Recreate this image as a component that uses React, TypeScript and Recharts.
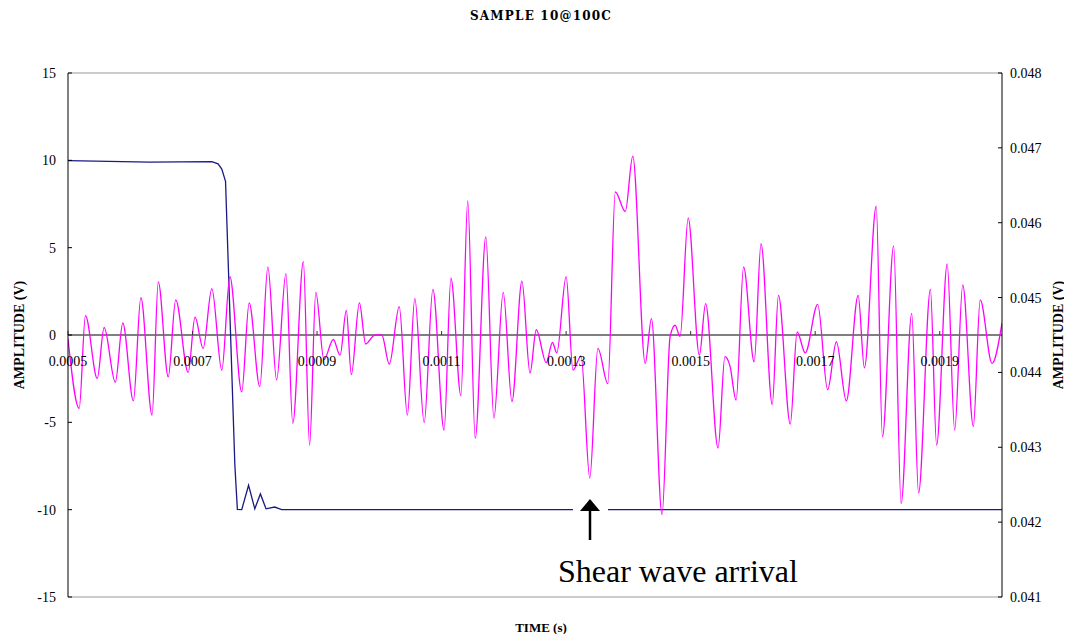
import { LineChart, Line, XAxis, YAxis, ReferenceLine } from 'recharts';

// chart geometry
const W = 1056;
const H = 626;
const PLOT_LEFT = 60;
const PLOT_TOP = 65;
const PLOT_W = 934;
const PLOT_H = 524;
const PLOT_RIGHT = PLOT_LEFT + PLOT_W;
const ZERO_Y = PLOT_TOP + PLOT_H / 2;
const X_AXIS_H = 20;
const FONT = "'Liberation Serif', 'Times New Roman', serif";

// axis ticks
const timeTicks = [0.0005, 0.0007, 0.0009, 0.0011, 0.0013, 0.0015, 0.0017, 0.0019];
const leftTicks = [-15, -10, -5, 0, 5, 10, 15];
const rightTicks = [0.041, 0.042, 0.043, 0.044, 0.045, 0.046, 0.047, 0.048];

// trigger (left axis, V)
const stepTime = [
  0.0005, 0.000631, 0.000731, 0.000741, 0.000747, 0.000753, 0.000768, 0.000772,
  0.000779, 0.00079, 0.0008, 0.000809, 0.000818, 0.000832, 0.000843, 0.002,
];
const stepVolt = [
  9.98, 9.9, 9.93, 9.8, 9.5, 8.8, -7.47, -9.98,
  -10.0, -8.6, -9.95, -9.1, -9.95, -9.85, -10.0, -10.0,
];

// received signal (right axis, V)
const waveTime = [
  0.0005, 0.000518, 0.000528, 0.000547, 0.000558, 0.000576, 0.000588, 0.000605,
  0.000617, 0.000635, 0.000645, 0.000661, 0.000673, 0.000693, 0.000704, 0.000717,
  0.000731, 0.000747, 0.00076, 0.000779, 0.000791, 0.000808, 0.000821, 0.000835,
  0.00085, 0.000861, 0.000878, 0.000888, 0.000898, 0.000911, 0.000926, 0.000937,
  0.000947, 0.000955, 0.000968, 0.000978, 0.000993, 0.001004, 0.001016, 0.001032,
  0.001045, 0.001057, 0.001072, 0.001086, 0.001104, 0.001115, 0.001131, 0.001142,
  0.001154, 0.001171, 0.001184, 0.001199, 0.001213, 0.001229, 0.001242, 0.001252,
  0.001268, 0.001278, 0.001285, 0.0013, 0.001311, 0.001324, 0.001338, 0.001351,
  0.001367, 0.001379, 0.001395, 0.001407, 0.001427, 0.001437, 0.001454, 0.001467,
  0.001475, 0.001483, 0.001496, 0.001514, 0.001524, 0.001544, 0.001555, 0.001563,
  0.001573, 0.001585, 0.001602, 0.001613, 0.001631, 0.001641, 0.00166, 0.001671,
  0.001684, 0.001704, 0.00172, 0.001734, 0.00175, 0.001769, 0.001779, 0.001798,
  0.001808, 0.001826, 0.001838, 0.001855, 0.001866, 0.001885, 0.001895, 0.001912,
  0.001924, 0.001937, 0.001954, 0.001965, 0.001984, 0.002,
];
const waveVolt = [
  0.04445, 0.04352, 0.04476, 0.04392, 0.0446, 0.04387, 0.04466, 0.04362,
  0.045, 0.04343, 0.04521, 0.04394, 0.04497, 0.044, 0.04474, 0.04432,
  0.04512, 0.04403, 0.04528, 0.04374, 0.04493, 0.04381, 0.04541, 0.0439,
  0.04532, 0.04332, 0.04548, 0.04303, 0.04507, 0.04417, 0.04444, 0.04423,
  0.04483, 0.04397, 0.04493, 0.04438, 0.0445, 0.0445, 0.04411, 0.04488,
  0.04343, 0.04499, 0.04333, 0.04511, 0.04323, 0.04526, 0.04369, 0.04629,
  0.04312, 0.04581, 0.04339, 0.04507, 0.04361, 0.04522, 0.04399, 0.04457,
  0.04413, 0.0444, 0.04426, 0.04528, 0.04403, 0.04422, 0.04259, 0.04432,
  0.04385, 0.04641, 0.04615, 0.04689, 0.04412, 0.04472, 0.0421, 0.04448,
  0.04463, 0.04448, 0.04606, 0.04423, 0.04492, 0.04299, 0.04421, 0.04409,
  0.04363, 0.04541, 0.04414, 0.04572, 0.04357, 0.04503, 0.04331, 0.04454,
  0.04426, 0.04491, 0.04377, 0.04441, 0.04362, 0.04503, 0.04406, 0.04622,
  0.04314, 0.04569, 0.04225, 0.04479, 0.04239, 0.04511, 0.04303, 0.04545,
  0.04323, 0.04517, 0.04328, 0.04497, 0.04412, 0.04466,
];

const stepData = stepTime.map((t, i) => ({ t, v: stepVolt[i] }));
const waveData = waveTime.map((t, i) => ({ t, v: waveVolt[i] }));

// x labels sit under the zero line, not at the bottom of the plot
const XTick = ({ x, payload }: any) => (
  <g>
    <line x1={x} x2={x} y1={ZERO_Y - 4} y2={ZERO_Y} stroke="#333" />
    <text x={x} y={ZERO_Y + 31} textAnchor="middle" fontSize={14} fontFamily={FONT} fill="#000">
      {Number(payload.value).toFixed(4)}
    </text>
  </g>
);

const LeftTick = ({ y, payload }: any) => (
  <g>
    <line x1={PLOT_LEFT} x2={PLOT_LEFT + 4} y1={y} y2={y} stroke="#000" />
    <text x={PLOT_LEFT - 12} y={y + 5} textAnchor="end" fontSize={14} fontFamily={FONT} fill="#000">
      {payload.value}
    </text>
  </g>
);

const RightTick = ({ y, payload }: any) => (
  <g>
    <line x1={PLOT_RIGHT - 4} x2={PLOT_RIGHT} y1={y} y2={y} stroke="#000" />
    <text x={PLOT_RIGHT + 8} y={y + 5} textAnchor="start" fontSize={14} fontFamily={FONT} fill="#000">
      {Number(payload.value).toFixed(3)}
    </text>
  </g>
);

export default function App() {
  return (
    <div style={{ position: 'relative', width: W, height: H, background: '#fff' }}>
      <LineChart
        width={W}
        height={H}
        margin={{ top: PLOT_TOP, right: 0, bottom: H - PLOT_TOP - PLOT_H - X_AXIS_H, left: 0 }}
      >
        <XAxis
          type="number"
          dataKey="t"
          domain={[0.0005, 0.002]}
          ticks={timeTicks}
          interval={0}
          allowDataOverflow
          height={X_AXIS_H}
          tickLine={false}
          axisLine={{ stroke: '#999' }}
          tick={<XTick />}
        />
        <YAxis
          yAxisId="left"
          domain={[-15, 15]}
          ticks={leftTicks}
          interval={0}
          width={PLOT_LEFT}
          tickLine={false}
          axisLine={{ stroke: '#000' }}
          tick={<LeftTick />}
        />
        <YAxis
          yAxisId="right"
          orientation="right"
          domain={[0.041, 0.048]}
          ticks={rightTicks}
          interval={0}
          width={W - PLOT_RIGHT}
          tickLine={false}
          axisLine={{ stroke: '#000' }}
          tick={<RightTick />}
        />
        <ReferenceLine yAxisId="left" y={15} stroke="#999" />
        <ReferenceLine yAxisId="left" y={0} stroke="#555" strokeWidth={1.3} />
        <Line
          yAxisId="left"
          data={stepData}
          dataKey="v"
          type="linear"
          stroke="#1a1a85"
          strokeWidth={1.3}
          dot={false}
          isAnimationActive={false}
        />
        <Line
          yAxisId="right"
          data={waveData}
          dataKey="v"
          type="monotone"
          stroke="#ff00ff"
          strokeWidth={1.3}
          dot={false}
          isAnimationActive={false}
        />
      </LineChart>
      <svg
        width={W}
        height={H}
        overflow="visible"
        style={{ position: 'absolute', left: 0, top: 0, pointerEvents: 'none', overflow: 'visible' }}
      >
        <text x={533} y={12} textAnchor="middle" fontSize={12} fontWeight="bold" fontFamily="'DejaVu Serif', serif" letterSpacing={1.2}>
          SAMPLE 10@100C
        </text>
        <text
          transform={`translate(11, ${ZERO_Y}) rotate(-90)`}
          textAnchor="middle"
          dominantBaseline="central"
          fontSize={14}
          fontWeight="bold"
          fontFamily={FONT}
        >
          AMPLITUDE (V)
        </text>
        <text
          transform={`translate(1050, ${ZERO_Y}) rotate(-90)`}
          textAnchor="middle"
          dominantBaseline="central"
          fontSize={14}
          fontWeight="bold"
          fontFamily={FONT}
        >
          AMPLITUDE (V)
        </text>
        <text x={533} y={624} textAnchor="middle" fontSize={13} fontWeight="bold" fontFamily={FONT}>
          TIME (s)
        </text>
        {/* annotation */}
        <rect x={565} y={496} width={35} height={10} fill="#fff" />
        <line x1={582} x2={582} y1={500} y2={532} stroke="#000" strokeWidth={2.5} />
        <polygon points="582,491 572,503 592,503" fill="#000" />
        <text x={550} y={574} fontSize={32} fontFamily={FONT} fill="#000">
          Shear wave arrival
        </text>
      </svg>
    </div>
  );
}
